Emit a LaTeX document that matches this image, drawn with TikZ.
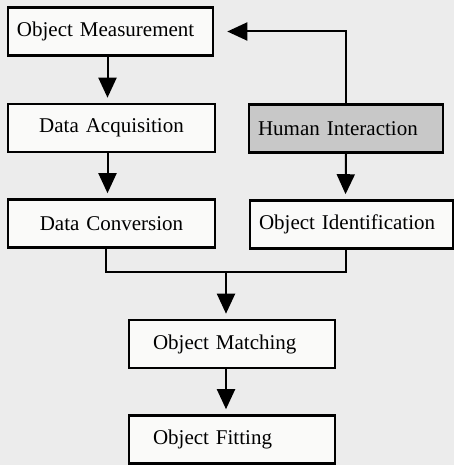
\documentclass[tikz,border=0pt]{standalone}
\usepackage{fontspec}
\setmainfont{Liberation Serif}
\usetikzlibrary{arrows.meta, positioning}
\definecolor{pagegray}{RGB}{236,236,236}
\definecolor{boxwhite}{RGB}{250,250,249}
\definecolor{humangray}{RGB}{200,200,200}
\begin{document}
\begin{tikzpicture}[x=0.5pt, y=-0.5pt, >={Triangle[length=10pt, width=9pt]},
      line width=1pt,
      blk/.style={draw, line width=1.3pt, fill=boxwhite, minimum height=24pt,
                  inner xsep=0pt, font=\fontsize{10.5}{12}\selectfont, align=left},
      flow/.style={->, shorten >=2.5pt}]

    % background / page size
    \fill[pagegray] (0,0) rectangle (454,465);
    \useasboundingbox (0,0) rectangle (454,465);

    % === left column ===
    \node[blk, minimum width=102.5pt, text width=93.5pt] (meas) at (110.5,31.5) {Object Measurement};
    \node[blk, minimum width=103.5pt, text width=94pt, align=center] (acq) at (111.5,128) {Data Acquisition};
    \node[blk, minimum width=103.5pt, text width=94pt, align=center] (conv) at (111.5,223.5) {Data Conversion};

    % === right column ===
    \node[blk, fill=humangray, minimum width=97pt, text width=88pt] (human) at (346,128.5) {Human Interaction};
    \node[blk, minimum width=101.5pt, text width=92.5pt] (ident) at (351.5,224.5) {Object Identification};

    % === bottom ===
    \node[blk, minimum width=103pt, text width=79pt] (match) at (232,344) {Object Matching};
    \node[blk, minimum width=103pt, text width=79pt] (fit) at (232,439.5) {Object Fitting};

    % === connectors ===
    \draw[flow] ([xshift=-1.5pt]meas.south) -- ([xshift=-2pt]acq.north);
    \draw[flow] ([xshift=-2pt]acq.south) -- ([xshift=-2pt]conv.north);
    \draw[flow] (human.south) -- ([xshift=-3pt]ident.north);
    \draw[->, shorten >=6.5pt] (human.north) |- (meas.east);

    \coordinate (join) at (226,272);
    \draw ([xshift=-3pt]conv.south) |- (join) -| ([xshift=-3pt]ident.south);
    \draw[flow] (join) -- (join |- match.north);
    \draw[flow] ([xshift=-3pt]match.south) -- ([xshift=-3pt]fit.north);

\end{tikzpicture}
\end{document}
